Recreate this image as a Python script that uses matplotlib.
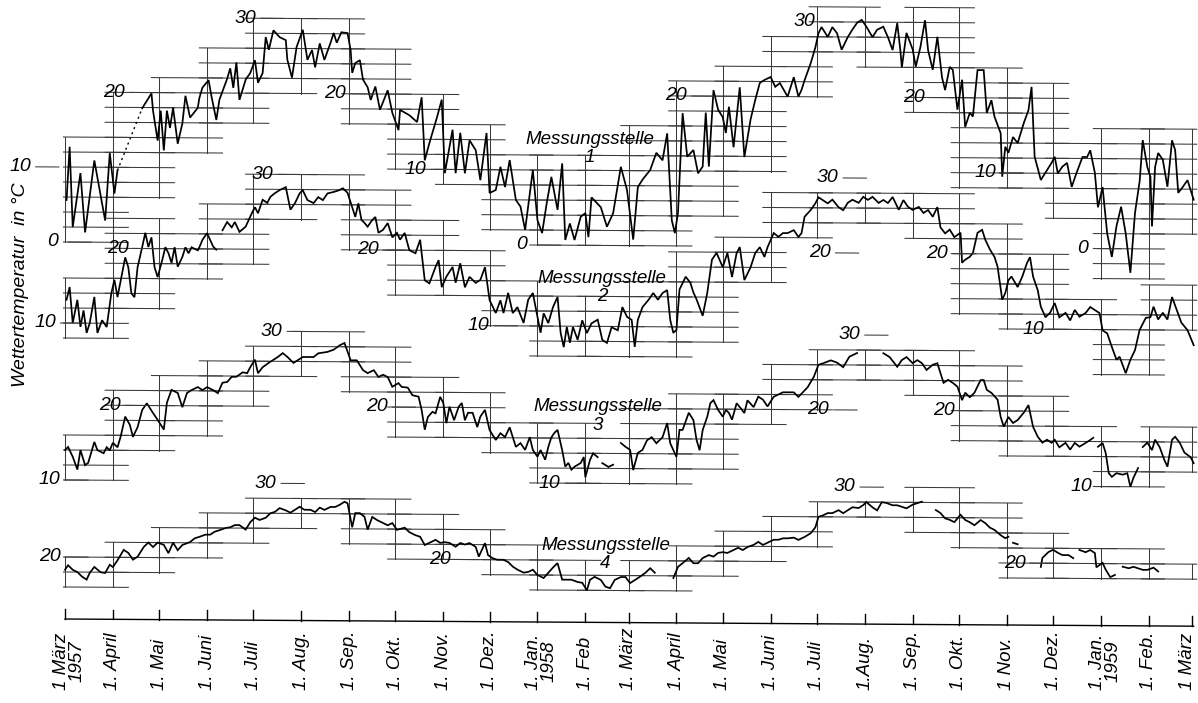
import numpy as np
import matplotlib
matplotlib.use("Agg")
import matplotlib.pyplot as plt
import datetime as dt

nan = float("nan")

# ---------------- data (day since 1 March 1957, water temperature in deg C) ----------------
month_labels = ["1 März\n1957", "1. April", "1. Mai", "1. Juni", "1. Juli", "1. Aug.", "1. Sep.",
                "1. Okt.", "1. Nov.", "1. Dez.", "1. Jan.\n1958", "1. Feb", "1. März", "1. April",
                "1. Mai", "1. Juni", "1. Juli", "1.Aug.", "1. Sep.", "1. Okt.", "1 Nov.",
                "1. Dez.", "1. Jan.\n1959", "1. Feb.", "1 März"]

station1 = [(1,5.6),(3,12.7),(5,2.0),(10,9.2),(13,1.3),(19,10.9),(26,2.9),(29,11.9),(32,6.5),(34,9.6),
    (42,nan),(50,17.9),(56,19.9),(57,17.6),(60,13.6),(62,17.6),(64,12.3),(66,17.6),(68,15.3),(70,18.0),
    (73,13.2),(76,15.9),(78,19.6),(81,16.7),(86,18.0),(87,19.3),(89,20.7),(93,21.7),(95,19.4),(98,16.4),
    (100,19.1),(105,21.9),(107,23.3),(109,20.7),(111,24.1),(113,19.1),(117,21.8),(120,22.7),(123,24.4),
    (125,21.4),(128,22.7),(130,27.5),(132,25.8),(135,28.4),(139,27.5),(143,27.1),(144,24.5),(147,22.1),
    (150,26.2),(154,28.5),(157,24.5),(160,25.8),(162,23.5),(165,26.7),(168,24.5),(172,26.8),(174,28.1),
    (176,26.8),(179,28.2),(183,28.1),(185,25.8),(186,22.8),(188,24.1),(191,24.5),(193,21.9),(196,20.9),
    (198,19.2),(201,21.0),(204,17.9),(209,20.5),(212,17.5),(216,15.2),(217,17.9),(223,17.2),(228,16.3),
    (231,19.6),(233,11.2),(236,13.5),(241,17.0),(244,19.3),(246,9.5),(251,15.3),(253,9.5),(256,14.9),
    (259,9.5),(262,13.9),(266,12.6),(269,8.6),(273,14.9),(275,6.9),(279,7.3),(282,10.4),(285,7.7),
    (288,11.3),(292,6.0),(295,5.1),(298,2.0),(303,10.0),(306,3.3),(309,1.6),(312,5.6),(315,9.1),(319,4.7),
    (322,10.9),(324,0.7),(327,2.9),(330,0.7),(334,3.8),(337,4.3),(339,1.1),(341,6.4),(347,5.1),(351,2.5),
    (355,4.3),(360,10.5),(364,7.4),(368,0.8),(371,7.8),(374,8.8),(379,10.1),(383,12.4),(387,11.4),
    (390,15.0),(393,3.4),(395,1.7),(397,4.4),(400,17.7),(403,11.9),(407,12.8),(410,9.7),(413,10.6),
    (415,17.8),(417,10.6),(420,20.8),(423,18.2),(426,17.2),(428,15.1),(430,18.6),(433,13.2),(437,21.2),
    (440,11.9),(444,16.9),(447,19.5),(450,21.8),(453,22.2),(457,22.6),(460,21.3),(463,21.8),(468,20.0),
    (472,22.6),(475,20.0),(477,20.9),(479,22.2),(483,24.5),(486,26.6),(488,28.5),(490,29.3),(494,28.0),
    (497,29.3),(500,28.5),(503,26.3),(507,28.0),(510,29.0),(513,29.9),(516,30.3),(519,29.4),(523,28.0),
    (526,29.0),(530,29.4),(533,28.0),(536,26.3),(539,29.9),(541,26.3),(542,24.0),(545,28.6),(549,26.4),
    (551,24.1),(554,26.7),(557,30.3),(559,26.3),(562,23.7),(564,26.7),(565,28.1),(568,22.7),(570,21.0),
    (573,24.1),(575,23.7),(578,18.4),(581,22.4),(583,16.1),(586,18.0),(588,17.5),(591,23.7),(595,23.7),
    (597,18.0),(600,19.7),(602,17.5),(606,15.3),(607,9.5),(609,13.5),(611,12.7),(614,14.8),(617,14.0),
    (621,16.7),(624,18.4),(626,21.5),(628,12.2),(632,9.1),(636,10.4),(639,11.4),(641,12.2),(643,10.0),
    (646,10.9),(649,11.4),(652,8.2),(655,10.0),(659,12.2),(662,12.2),(664,13.1),(667,10.1),(669,5.5),
    (672,8.2),(675,2.0),(678,-1.1),(681,3.0),(684,5.6),(687,2.0),(690,-3.2),(693,4.8),(696,9.0),
    (698,14.5),(701,10.9),(703,9.6),(704,3.0),(706,10.9),(708,12.8),(711,11.9),(714,8.3),(717,14.5),
    (719,13.2),(721,7.5),(724,8.3),(727,9.2),(731,6.6)]

station2 = [(1,13.1),(3,14.8),(5,10.0),(8,13.1),(10,9.5),(12,11.7),(14,8.7),(16,10.0),(19,13.5),(21,8.7),
    (24,10.4),(27,9.5),(30,14.0),(32,15.8),(34,13.5),(37,16.7),(39,18.8),(41,17.5),(43,14.0),(45,13.5),
    (47,17.5),(50,20.2),(52,22.1),(54,20.2),(56,21.5),(58,17.5),(60,16.2),(63,18.5),(65,20.2),(67,19.4),
    (69,18.1),(71,20.2),(73,17.6),(76,18.9),(78,20.2),(80,19.4),(82,20.2),(86,19.8),(87,20.2),(89,21.2),
    (92,22.1),(94,21.2),(96,20.3),(98,19.9),(100,nan),(102,22.5),(105,23.6),(108,22.9),(110,23.6),
    (113,22.3),(117,23.0),(119,23.9),(121,24.8),(123,25.6),(125,24.8),(128,26.6),(131,26.2),(133,27.0),
    (136,27.5),(139,27.9),(143,28.3),(146,25.3),(149,26.2),(152,27.5),(154,27.9),(157,26.6),(161,26.2),
    (164,27.0),(167,26.6),(170,27.5),(174,27.7),(177,27.9),(180,28.2),(183,27.6),(186,25.7),(188,24.4),
    (190,26.2),(192,24.0),(194,23.6),(196,23.1),(199,24.0),(201,24.4),(203,22.3),(206,22.7),(209,23.6),
    (212,21.7),(215,22.3),(217,21.4),(220,22.3),(223,20.0),(227,19.6),(230,21.4),(233,16.0),(236,15.6),
    (240,17.8),(242,18.7),(244,15.1),(247,16.5),(251,17.8),(253,15.7),(256,18.3),(259,15.1),(262,16.5),
    (266,15.7),(269,16.1),(272,17.8),(275,13.4),(279,11.7),(282,13.4),(284,11.7),(287,14.4),(290,11.7),
    (293,12.5),(297,10.4),(300,13.5),(303,14.4),(306,11.2),(308,9.1),(310,11.7),(313,10.4),(316,12.5),
    (319,13.9),(321,9.1),(323,7.2),(325,9.9),(327,7.8),(329,9.9),(332,8.2),(335,10.8),(338,9.1),
    (341,10.4),(345,10.9),(348,8.2),(351,7.8),(354,9.9),(358,9.5),(361,12.6),(364,11.3),(367,10.9),
    (369,7.3),(371,10.9),(374,12.6),(378,13.6),(381,14.5),(384,13.6),(387,14.5),(390,14.9),(392,10.9),
    (394,9.2),(396,9.6),(398,15.0),(402,16.7),(405,15.9),(407,14.6),(409,13.7),(413,11.5),(416,14.6),
    (419,19.0),(422,19.9),(426,18.0),(429,19.9),(432,16.7),(435,19.9),(437,20.7),(440,16.3),(444,18.0),
    (447,19.9),(450,20.7),(453,19.4),(455,20.7),(459,22.6),(462,22.1),(465,22.6),(468,22.6),(472,23.0),
    (475,22.1),(477,22.6),(479,24.8),(483,25.7),(486,26.6),(488,27.4),(491,27.0),(494,26.6),(497,27.1),
    (501,26.1),(504,25.7),(507,26.7),(510,27.1),(514,26.7),(517,27.5),(520,27.1),(523,27.5),(527,26.7),
    (530,27.1),(533,26.7),(536,27.5),(540,25.8),(543,27.1),(546,26.2),(549,25.8),(553,26.2),(556,25.4),
    (559,25.8),(562,24.9),(565,26.2),(567,23.5),(570,22.7),(573,23.2),(576,22.2),(580,22.8),(581,18.8),
    (583,19.2),(586,19.6),(588,20.1),(591,22.8),(594,23.2),(596,21.9),(599,20.6),(602,19.6),(604,18.3),
    (607,13.9),(609,14.8),(611,16.5),(613,17.0),(617,15.6),(620,17.0),(623,18.8),(625,19.6),(627,17.0),
    (630,15.2),(632,13.0),(635,11.6),(638,12.2),(641,13.5),(644,11.6),(648,12.2),(651,11.2),(654,12.6),
    (657,11.7),(661,12.2),(664,13.0),(667,12.6),(670,12.2),(672,9.9),(675,9.5),(678,7.7),(681,6.0),
    (683,6.4),(687,4.2),(690,6.0),(693,7.3),(696,10.0),(700,11.6),(703,11.7),(705,13.1),(708,11.4),
    (711,12.3),(714,11.4),(717,14.4),(720,12.7),(723,11.0),(727,10.0),(731,8.0)]

station3 = [(0,14.0),(2,14.4),(5,13.1),(8,11.4),(10,14.0),(13,12.0),(15,12.3),(18,14.4),(19,15.1),(21,14.0),
    (25,13.6),(27,14.4),(29,14.0),(31,15.0),(34,14.4),(36,15.8),(39,18.5),(42,17.4),(44,15.8),(47,17.1),
    (50,19.4),(53,20.3),(57,19.0),(60,18.1),(64,16.8),(66,20.4),(69,22.1),(73,21.7),(76,19.8),(79,21.7),
    (82,22.1),(86,22.5),(89,22.1),(92,22.5),(96,22.1),(99,21.7),(102,23.1),(105,23.2),(108,23.9),
    (111,23.9),(115,24.5),(118,24.4),(120,25.2),(123,26.2),(125,24.4),(128,25.2),(132,25.8),(135,26.2),
    (138,26.6),(141,27.1),(144,26.6),(148,25.8),(151,26.2),(154,26.6),(157,26.6),(161,26.6),(164,27.1),
    (167,27.2),(170,27.3),(174,27.6),(178,28.2),(181,28.5),(185,26.2),(189,26.2),(193,24.9),(196,24.5),
    (200,24.9),(203,24.0),(206,24.3),(209,24.0),(212,22.7),(216,23.2),(218,22.7),(222,22.6),(225,21.6),
    (229,21.4),(231,19.6),(233,17.0),(235,18.7),(238,19.4),(240,19.2),(243,21.4),(245,20.6),(247,17.9),
    (249,20.1),(252,18.3),(255,20.1),(257,20.6),(259,18.3),(261,19.3),(264,19.3),(267,17.4),(269,18.8),
    (272,19.7),(275,17.0),(279,15.7),(282,16.6),(285,16.1),(288,17.4),(292,14.8),(295,15.3),(298,14.4),
    (301,16.1),(303,14.4),(306,13.5),(308,14.4),(311,13.1),(313,14.8),(315,16.1),(317,16.7),(319,17.1),
    (322,14.4),(324,12.2),(326,12.7),(328,11.8),(330,12.2),(334,12.7),(336,13.5),(337,10.8),(340,13.1),
    (342,14.0),(345,13.5),(347,nan),(348,12.7),(352,12.2),(355,12.5),(357,nan),(360,15.4),(363,14.9),
    (366,14.5),(368,11.8),(371,14.1),(374,14.5),(377,15.8),(380,16.2),(383,15.4),(387,16.2),(390,18.1),
    (392,15.4),(394,14.5),(396,13.6),(398,17.2),(400,17.2),(404,19.5),(407,18.5),(409,15.9),(411,14.5),
    (413,17.2),(416,19.0),(418,20.8),(420,21.2),(423,19.9),(426,19.0),(428,19.9),(430,19.5),(432,18.6),
    (435,20.8),(437,20.3),(440,19.5),(442,21.2),(446,20.3),(449,21.7),(452,21.3),(455,20.4),(459,21.7),
    (462,22.0),(465,22.3),(468,22.3),(472,22.3),(475,21.7),(481,23.0),(485,24.4),(488,26.0),(491,26.2),
    (496,26.6),(500,26.3),(504,25.7),(508,27.1),(513,27.6),(520,nan),(530,27.6),(534,27.1),(539,25.8),
    (542,26.7),(545,27.1),(549,26.3),(552,26.7),(555,26.3),(558,25.4),(562,26.1),(565,26.3),(567,25.0),
    (569,23.7),(572,24.1),(575,23.7),(578,23.2),(581,21.4),(583,22.4),(586,21.8),(589,22.4),(593,24.1),
    (595,24.1),(597,22.8),(600,22.4),(604,21.5),(606,19.2),(608,17.9),(611,19.2),(614,18.4),(617,18.8),
    (621,19.8),(624,20.8),(627,17.9),(630,16.6),(633,15.8),(636,16.2),(639,15.8),(641,16.2),(644,15.2),
    (648,15.8),(651,14.9),(654,15.8),(657,15.3),(661,15.8),(664,16.2),(666,16.5),(667,nan),(669,15.3),
    (672,15.8),(674,14.5),(676,11.8),(678,11.3),(681,11.8),(685,11.6),(688,11.8),(690,10.0),(692,11.2),
    (695,12.5),(696,nan),(698,15.3),(701,15.9),(704,14.9),(706,16.3),(709,15.3),(712,13.6),(714,12.7),
    (717,16.3),(719,16.7),(722,15.9),(725,14.6),(729,14.0),(731,13.2)]

station4 = [(0,18.3),(2,18.9),(5,18.3),(8,18.0),(11,17.4),(14,17.0),(16,17.9),(19,18.7),(23,18.0),(26,17.9),
    (29,19.0),(31,18.7),(34,19.6),(38,21.0),(41,20.6),(44,19.7),(47,20.1),(51,21.4),(54,22.0),(57,21.4),
    (60,22.0),(64,21.7),(67,20.6),(70,22.0),(73,21.0),(76,21.7),(81,22.1),(84,22.6),(87,22.8),(91,23.1),
    (94,23.1),(97,23.5),(100,23.7),(104,24.0),(107,24.1),(110,24.4),(113,24.4),(117,23.8),(120,24.8),
    (123,25.4),(126,25.1),(130,25.4),(133,26.0),(136,26.2),(139,26.7),(143,26.4),(146,26.1),(149,26.5),
    (152,26.9),(155,26.5),(159,26.5),(162,26.2),(165,26.8),(168,26.5),(172,26.9),(175,26.9),(178,27.2),
    (181,27.6),(183,27.4),(186,24.2),(188,26.1),(191,26.1),(194,25.6),(196,23.9),(199,25.6),(202,25.2),
    (205,24.9),(209,24.5),(212,24.8),(215,23.9),(220,24.2),(223,23.6),(227,23.2),(230,23.0),(233,21.9),
    (236,22.2),(240,22.6),(243,22.2),(246,22.3),(249,22.2),(253,21.7),(256,22.2),(259,22.0),(262,22.2),
    (266,21.7),(268,20.4),(270,21.3),(272,22.2),(274,20.6),(277,20.2),(280,20.0),(284,20.0),(287,19.7),
    (290,19.1),(293,18.7),(297,18.3),(300,18.4),(303,18.7),(306,18.0),(310,17.6),(313,18.3),(316,19.0),
    (319,19.6),(322,17.4),(325,17.4),(328,17.4),(332,17.1),(335,17.0),(338,16.0),(340,17.4),(343,17.8),
    (347,17.4),(350,16.5),(353,16.3),(356,17.4),(360,17.8),(363,17.8),(366,17.0),(369,17.4),(372,17.8),
    (376,18.4),(379,19.0),(382,18.4),(388,nan),(394,17.7),(397,19.2),(400,19.7),(404,20.4),(407,19.7),
    (410,19.7),(413,20.4),(417,20.8),(420,20.6),(423,21.1),(426,21.2),(429,21.1),(433,21.5),(436,21.8),
    (439,21.5),(442,21.9),(446,22.2),(449,22.6),(452,22.2),(455,22.5),(459,22.9),(462,22.9),(465,23.1),
    (468,23.1),(472,23.2),(475,22.9),(479,23.3),(483,23.8),(486,24.6),(488,26.0),(491,26.2),(494,26.5),
    (497,26.5),(501,26.9),(504,26.5),(507,26.9),(510,27.3),(514,27.2),(517,27.6),(519,28.0),(523,27.3),
    (526,26.9),(529,28.0),(532,27.9),(536,27.6),(539,27.6),(542,27.4),(545,27.2),(549,27.7),(552,27.9),
    (555,28.1),(559,nan),(564,27.0),(567,26.6),(570,25.9),(573,25.7),(576,25.4),(580,26.4),(583,25.7),
    (586,25.4),(589,25.0),(593,25.7),(596,25.3),(599,24.7),(602,24.4),(606,23.7),(609,23.3),(611,23.5),
    (612,nan),(614,22.7),(617,22.5),(624,nan),(632,19.5),(633,20.7),(637,21.5),(640,21.8),(643,21.4),
    (646,21.1),(650,21.1),(653,20.7),(655,nan),(657,21.8),(661,21.5),(664,21.8),(667,21.4),(668,19.5),
    (672,20.1),(674,19.2),(677,18.2),(680,18.5),(682,nan),(685,19.6),(689,19.4),(692,19.6),(695,19.4),
    (698,19.2),(701,19.2),(705,19.5),(708,19.0)]

# scale labels per station: (day, level)
labels1 = [(-29, 10), (-8, 0), (32, 20), (117, 30), (175, 20), (227, 10), (296, 0),
           (396, 20), (479, 30), (550, 20), (596, 10), (659, 0)]
labels2 = [(-13, 10), (34, 20), (128, 30), (196, 20), (268, 10), (489, 20), (494, 30),
           (565, 20), (627, 10)]
labels3 = [(-10, 10), (29, 20), (134, 30), (202, 20), (314, 10), (488, 20), (508, 30),
           (569, 20), (658, 10)]
labels4 = [(-10, 20), (130, 30), (243, 20), (505, 30), (615, 20)]

# ---------------- layout ----------------
OFFSETS = [0.0, -20.8, -41.73, -62.0]
TILT = 0.00131
FONT = ["Liberation Sans", "DejaVu Sans"]

fig = plt.figure(figsize=(11.98, 7.03), dpi=100)
ax = fig.add_axes([0, 0, 1, 1])
ax.set_xlim(-42.1, 733.8)
ax.set_ylim(-61.47, 32.27)
ax.axis("off")

start = dt.date(1957, 3, 1)
ms = []
for i in range(25):
    yy = 1957 + (2 + i) // 12
    mm = (2 + i) % 12 + 1
    ms.append((dt.date(yy, mm, 1) - start).days)
ms = np.array(ms, float)


def Y(t, d, off):
    return np.asarray(t, float) + off - TILT * np.asarray(d, float)


GRID_C = "#3a3a3a"
stations = [station1, station2, station3, station4]
all_labels = [labels1, labels2, labels3, labels4]

for si, (data, off, labs) in enumerate(zip(stations, OFFSETS, all_labels)):
    d = np.array([p[0] for p in data], float)
    t = np.array([p[1] for p in data], float)
    ranges = {}
    for m in range(24):
        a, b = ms[m], ms[m + 1]
        sel = (d >= a) & (d < b) & np.isfinite(t)
        if not sel.any():
            continue
        lo = 2 * np.floor(t[sel].min() / 2)
        hi = 2 * np.ceil(t[sel].max() / 2)
        ranges[m] = (lo, hi)
        x0 = max(a - 5, -1)
        x1 = min(b + 10, 733)
        for L in np.arange(lo, hi + 0.5, 2):
            ax.plot([x0, x1], Y([L, L], [x0, x1], off), color=GRID_C, lw=0.75)
    for m in range(25):
        rs = [ranges[k] for k in (m - 1, m) if k in ranges]
        if not rs:
            continue
        lo = min(r[0] for r in rs)
        hi = max(r[1] for r in rs)
        ax.plot([ms[m], ms[m]], Y([lo, hi], [ms[m], ms[m]], off), color=GRID_C, lw=0.75)
    # curve
    ax.plot(d, Y(t, d, off), color="black", lw=1.25, solid_joinstyle="miter")
    # dotted bridge over the first gap of station 1
    if si == 0:
        gi = np.where(~np.isfinite(t))[0]
        for g in gi:
            ax.plot([d[g - 1], d[g + 1]], Y([t[g - 1], t[g + 1]], [d[g - 1], d[g + 1]], off),
                    color="black", lw=1.0, ls=(0, (1.5, 2.5)))
    # scale numbers
    for (ld, lv) in labs:
        ax.text(ld, Y(lv, ld, off), str(lv), fontsize=14, style="italic", family=FONT,
                ha="center", va="center")
        ax.plot([ld + 10, ld + 25], Y([lv, lv], [ld + 10, ld + 25], off), color=GRID_C, lw=0.75)

# station names
for (xd, yv, num) in [(340, 12.5, "1"), (348, -6.1, "2"), (345, -23.2, "3"), (350, -41.7, "4")]:
    ax.text(xd, yv, "Messungsstelle\n" + num, fontsize=13.5, style="italic", family=FONT,
            ha="center", va="center", linespacing=1.1)

# time axis
x_axis = np.array([0, 731.0])
ax.plot(x_axis, -50.27 - TILT * x_axis, color="black", lw=1.0)
n_lab = len(month_labels)
for i, m in enumerate(ms):
    yb = -50.27 - TILT * m
    ax.plot([m, m], [yb, yb + 1.3], color="black", lw=1.0)
    lab = month_labels[i]
    xl = m
    if "\n" in lab:
        xl = m + 2.5
    if i == n_lab - 1:
        xl = m - 3.0
    ax.text(xl, -59.7, lab, rotation=90, rotation_mode="anchor", ha="left",
            va="center", fontsize=13.5, style="italic", family=FONT,
            multialignment="center", linespacing=0.9)

ax.text(-29.1, -5.7, "Wettertemperatur  in °C", rotation=90, fontsize=14, style="italic",
        family=FONT, ha="center", va="center")

fig.savefig("out.png", dpi=100)
